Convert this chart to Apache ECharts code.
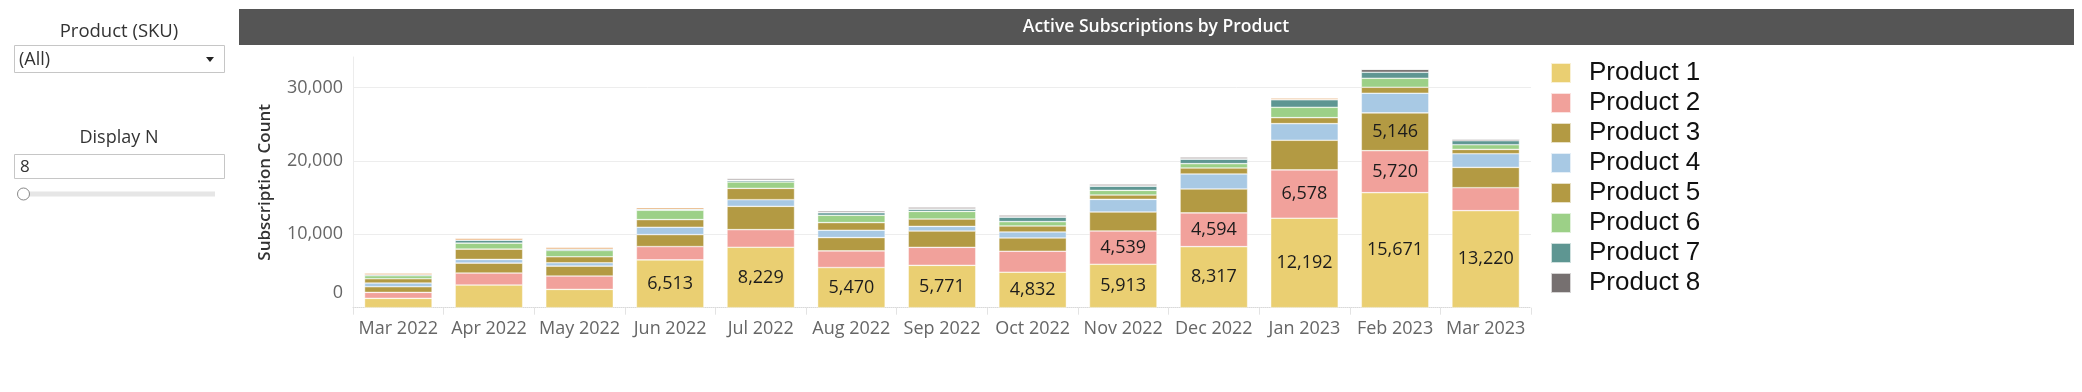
<!DOCTYPE html>
<html>
<head>
<meta charset="utf-8">
<script src="https://cdn.jsdelivr.net/npm/echarts@6/dist/echarts.min.js"></script>
<style>
html,body{margin:0;padding:0;background:#fff;}
#chart{width:2082px;height:392px;}
</style>
</head>
<body>
<div id="chart"></div>
<script>
const months = ['Mar 2022','Apr 2022','May 2022','Jun 2022','Jul 2022','Aug 2022','Sep 2022','Oct 2022','Nov 2022','Dec 2022','Jan 2023','Feb 2023','Mar 2023'];
const product1 = [1270, 3084, 2494, 6513, 8229, 5470, 5771, 4832, 5913, 8317, 12192, 15671, 13220];
const product2 = [816, 1633, 1814, 1814, 2404, 2268, 2449, 2857, 4539, 4594, 6578, 5720, 3129];
const product3 = [771, 1360, 1360, 1633, 3175, 1814, 2222, 1814, 2585, 3265, 4036, 5146, 2766];
const product4 = [499, 499, 454, 998, 907, 998, 635, 816, 1723, 2041, 2268, 2676, 1859];
const product5 = [590, 1406, 816, 1043, 1542, 1043, 998, 816, 590, 816, 816, 816, 590];
const product6 = [408, 816, 862, 1270, 862, 998, 1043, 590, 635, 590, 1406, 1224, 635];
const product7 = [136, 408, 181, 136, 227, 363, 317, 635, 590, 635, 1043, 816, 544];
const product8 = [0, 0, 0, 0, 0, 0, 0, 0, 0, 0, 0, 408, 227];
const otherOrange = [227, 272, 272, 227, 0, 0, 0, 0, 0, 0, 227, 0, 0];
const otherGray = [0, 0, 0, 0, 272, 272, 272, 272, 272, 272, 0, 0, 0];
const yTicks = [0, 10000, 20000, 30000];

const seriesNames = ['Product 1','Product 2','Product 3','Product 4','Product 5','Product 6','Product 7','Product 8','Product 9','Product 10'];
const seriesData = [product1, product2, product3, product4, product5, product6, product7, product8, otherOrange, otherGray];
const colors = ['#EACF72','#F1A19B','#B39A43','#A8C9E4','#B39A43','#9CD087','#5E9692','#767070','#E39A54','#B8B1B0'];

const fmt = v => v.toLocaleString('en-US');
const LABEL_MIN = 4300;

const chart = echarts.init(document.getElementById('chart'), null, {renderer: 'canvas'});

const series = seriesNames.map((name, i) => ({
  name: name,
  type: 'bar',
  stack: 'total',
  barWidth: '74.5%',
  data: seriesData[i],
  itemStyle: {color: colors[i], borderColor: 'rgba(255,255,255,0.7)', borderWidth: 0.6},
  emphasis: {disabled: true},
  label: {
    show: true,
    position: 'inside',
    fontFamily: 'Open Sans',
    fontSize: 18,
    color: '#1c1c1c',
    formatter: p => (p.value >= LABEL_MIN ? fmt(p.value) : '')
  }
}));

const option = {
  animation: false,
  backgroundColor: '#ffffff',
  textStyle: {fontFamily: 'Open Sans'},
  grid: {left: 353, right: 551, top: 57, bottom: 84.3, containLabel: false},
  legend: {
    data: seriesNames.slice(0, 8),
    orient: 'vertical',
    left: 1545,
    top: 55,
    itemWidth: 20,
    itemHeight: 20,
    itemGap: 4,
    icon: 'rect',
    selectedMode: false,
    textStyle: {
      fontFamily: 'Liberation Sans',
      fontSize: 26,
      color: '#111',
      padding: [2, 0, 0, 13]
    }
  },
  xAxis: {
    type: 'category',
    data: months,
    axisLine: {show: true, lineStyle: {color: '#d9d9d9', type: 'dotted', width: 1}},
    axisTick: {show: true, alignWithLabel: false, length: 7, lineStyle: {color: '#e3e3e3'}},
    axisLabel: {fontFamily: 'Open Sans', fontSize: 18, color: '#666', margin: 12, interval: 0}
  },
  yAxis: {
    type: 'value',
    min: 0,
    max: 34150,
    interval: 10000,
    name: 'Subscription Count',
    nameLocation: 'middle',
    nameGap: 79,
    nameTextStyle: {fontFamily: 'Open Sans', fontSize: 17, fontWeight: 600, color: '#333'},
    axisLine: {show: true, lineStyle: {color: '#ececec'}},
    axisTick: {show: false},
    splitLine: {show: true, showMaxLine: false, showMinLine: false, lineStyle: {color: '#ededed', width: 1}},
    axisLabel: {
      fontFamily: 'Open Sans',
      fontSize: 18,
      color: '#666',
      margin: 10,
      formatter: v => {
        if (yTicks.indexOf(v) < 0) return '';
        if (v === 0) return '{z|0}';
        return fmt(v);
      },
      rich: {z: {fontFamily: 'Open Sans', fontSize: 18, color: '#666', padding: [0, 0, 29, 0]}}
    }
  },
  graphic: [
    {type: 'rect', shape: {x: 239, y: 9, width: 1835, height: 36}, style: {fill: '#555555'}, silent: true},
    {type: 'text', x: 1156, y: 27, style: {text: 'Active Subscriptions by Product', fill: '#ffffff', font: '600 17.5px "Open Sans"', textAlign: 'center', textVerticalAlign: 'middle'}},
    {type: 'text', x: 119, y: 32, style: {text: 'Product (SKU)', fill: '#333', font: '18.5px "Open Sans"', textAlign: 'center', textVerticalAlign: 'middle'}},
    {type: 'rect', shape: {x: 14.5, y: 45.5, width: 210, height: 27}, style: {fill: '#fff', stroke: '#c6c6c6', lineWidth: 1}},
    {type: 'text', x: 19, y: 60, style: {text: '(All)', fill: '#333', font: '18px "Open Sans"', textAlign: 'left', textVerticalAlign: 'middle'}},
    {type: 'polygon', shape: {points: [[206, 57], [214, 57], [210, 62]]}, style: {fill: '#222'}},
    {type: 'text', x: 119, y: 138, style: {text: 'Display N', fill: '#333', font: '18px "Open Sans"', textAlign: 'center', textVerticalAlign: 'middle'}},
    {type: 'rect', shape: {x: 14.5, y: 154.5, width: 210, height: 24}, style: {fill: '#fff', stroke: '#c6c6c6', lineWidth: 1}},
    {type: 'text', x: 20, y: 167, style: {text: '8', fill: '#333', font: '17px "Open Sans"', textAlign: 'left', textVerticalAlign: 'middle'}},
    {type: 'rect', shape: {x: 20, y: 191.5, width: 195, height: 5}, style: {fill: '#e6e6e6'}},
    {type: 'circle', shape: {cx: 23.5, cy: 194, r: 6}, style: {fill: '#fff', stroke: '#888', lineWidth: 1}}
  ],
  series: series
};
chart.setOption(option);
</script>
</body>
</html>
